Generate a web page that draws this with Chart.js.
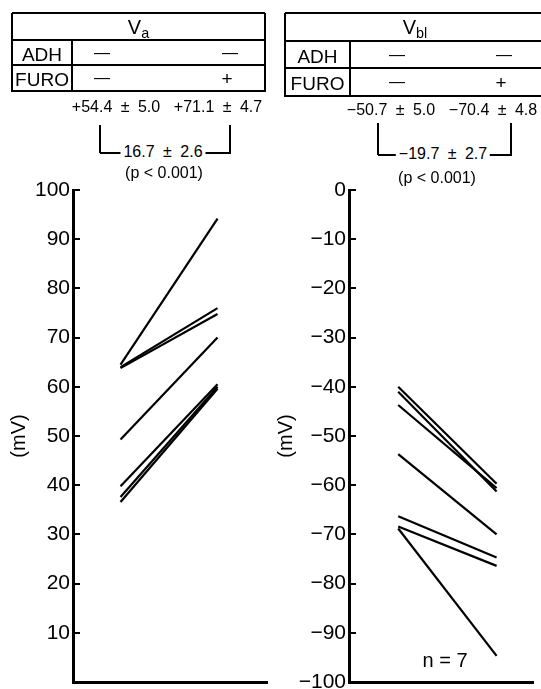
<!DOCTYPE html>
<html>
<head>
<meta charset="utf-8">
<script src="https://cdn.jsdelivr.net/npm/chart.js@4.4.0/dist/chart.umd.min.js"></script>
<style>
  body { margin: 0; background: #fff; }
  #page { position: relative; width: 541px; height: 689px; overflow: hidden;
          font-family: 'Liberation Sans', Arial, sans-serif; color: #000; }
  canvas { position: absolute; top: 0; }
  .ln { position: absolute; background: #000; }
  .t { position: absolute; transform: translate(-50%, -50%); white-space: nowrap; line-height: 1; }
  .num { word-spacing: 4px; }
  .gap { background: #fff; padding: 0 3px; }
  sub { font-size: 0.72em; vertical-align: -0.3em; line-height: 0; }
</style>
</head>
<body>
<div id="page">
  <canvas id="va" width="270" height="689" style="left:0"></canvas>
  <canvas id="vbl" width="271" height="689" style="left:270px"></canvas>
</div>
<script>
const FONT = "'Liberation Sans', Arial, sans-serif";

// x positions of the two conditions (FURO -, FURO +)
const conditionX = [0, 1];

// apical membrane potential, one entry per tubule (n = 7)
const vaControl = [64.5, 64.0, 63.8, 49.3, 39.8, 37.6, 36.6];
const vaFuro = [94.2, 76.0, 74.8, 70.0, 60.5, 60.0, 59.6];
const vaTicks = [10, 20, 30, 40, 50, 60, 70, 80, 90, 100];

// basolateral membrane potential
const vblControl = [-40.0, -41.0, -43.7, -53.7, -66.3, -68.4, -68.8];
const vblFuro = [-59.7, -61.3, -60.6, -70.0, -74.7, -76.4, -94.7];
const vblTicks = [0, -10, -20, -30, -40, -50, -60, -70, -80, -90, -100];

function makePanel(id, control, furo, ticks, opts) {
  const datasets = control.map((v, i) => ({
    data: [{x: conditionX[0], y: v}, {x: conditionX[1], y: furo[i]}],
    borderColor: '#000',
    borderWidth: 2.2,
    pointRadius: 0,
    tension: 0
  }));

  return new Chart(document.getElementById(id), {
    type: 'line',
    data: {datasets},
    options: {
      responsive: false,
      animation: false,
      events: [],
      layout: {padding: {top: 190, bottom: 7, left: 0, right: opts.padRight}},
      plugins: {legend: {display: false}, tooltip: {enabled: false}},
      scales: {
        x: {
          type: 'linear',
          min: opts.xMin,
          max: opts.xMax,
          ticks: {display: false},
          grid: {display: false},
          border: {display: true, color: '#000', width: 3},
          afterFit: (scale) => {
            scale.height = 0;
            scale.paddingLeft = 0;
            scale.paddingRight = 0;
          }
        },
        y: {
          min: opts.yMin,
          max: opts.yMax,
          afterBuildTicks: (scale) => {
            scale.ticks = ticks.map((v) => ({value: v}));
          },
          afterFit: (scale) => {
            scale.width = opts.axisWidth;
            scale.paddingTop = 0;
            scale.paddingBottom = 0;
          },
          ticks: {
            color: '#000',
            padding: 10,
            font: {family: FONT, size: 21},
            callback: (v) => String(v).replace('-', '\u2212')
          },
          grid: {drawOnChartArea: false, drawTicks: true, tickLength: -7, color: '#000', lineWidth: 2},
          border: {display: true, color: '#000', width: 3},
          title: {
            display: true,
            text: '(mV)',
            color: '#000',
            font: {family: FONT, size: 20},
            padding: {top: opts.titlePad, bottom: 0}
          }
        }
      }
    }
  });
}

makePanel('va', vaControl, vaFuro, vaTicks,
  {xMin: -0.49, xMax: 1.51, yMin: 0, yMax: 100, axisWidth: 73, padRight: 3, titlePad: 7});
makePanel('vbl', vblControl, vblFuro, vblTicks,
  {xMin: -0.5, xMax: 1.37, yMin: -100, yMax: 0, axisWidth: 79, padRight: 8, titlePad: 4});

// condition tables and the statistics above each panel
const page = document.getElementById('page');

function put(cls, style, html) {
  const el = document.createElement('div');
  el.className = cls;
  Object.assign(el.style, style);
  if (html) el.innerHTML = html;
  page.appendChild(el);
}
function text(x, y, html, size, cls) {
  put('t' + (cls ? ' ' + cls : ''), {left: x + 'px', top: y + 'px', fontSize: size + 'px'}, html);
}
function hline(x1, x2, y) {
  put('ln', {left: x1 + 'px', top: (y - 1) + 'px', width: (x2 - x1) + 'px', height: '2px'});
}
function vline(x, y1, y2) {
  put('ln', {left: (x - 1) + 'px', top: y1 + 'px', width: '2px', height: (y2 - y1) + 'px'});
}

function drawTable(t) {
  const [y0, y1, y2, y3] = t.rows;
  [y0, y1, y2, y3].forEach((y) => hline(t.x1, t.x2, y));
  vline(t.x1, y0, y3 + 1);
  vline(t.x2, y0, y3 + 1);
  vline(t.xd, y1, y3 + 1);
  text((t.x1 + t.x2) / 2, (y0 + y1) / 2, t.title, 20);
  text((t.x1 + t.xd) / 2, (y1 + y2) / 2 + 1, 'ADH', 19);
  text((t.x1 + t.xd) / 2, (y2 + y3) / 2 + 1, 'FURO', 19);
  text(t.cols[0], (y1 + y2) / 2, '\u2014', 16);
  text(t.cols[1], (y1 + y2) / 2, '\u2014', 16);
  text(t.cols[0], (y2 + y3) / 2, '\u2014', 16);
  text(t.cols[1] - 3, (y2 + y3) / 2, '+', 19);
}

function drawBracket(b) {
  vline(b.xa, b.top, b.bottom);
  vline(b.xb, b.top, b.bottom);
  hline(b.xa, b.xb + 1, b.bottom);
  text(b.means[0][0], b.means[0][1], b.means[0][2], 16, 'num');
  text(b.means[1][0], b.means[1][1], b.means[1][2], 16, 'num');
  text(b.diff[0], b.diff[1], '<span class="gap">' + b.diff[2] + '</span>', 16, 'num');
  text(b.p[0], b.p[1], '(p &lt; 0.001)', 16);
}

drawTable({x1: 12, x2: 265, xd: 72, rows: [13, 40, 65, 91], cols: [102, 230], title: 'V<sub>a</sub>'});
drawTable({x1: 285, x2: 545, xd: 350, rows: [13, 41, 68, 96], cols: [397, 504], title: 'V<sub>bl</sub>'});

drawBracket({
  xa: 100, xb: 230, top: 125, bottom: 153,
  means: [[116, 107, '+54.4 \u00b1 5.0'], [218, 107, '+71.1 \u00b1 4.7']],
  diff: [163, 152, '16.7 \u00b1 2.6'],
  p: [164, 173]
});
drawBracket({
  xa: 378, xb: 511, top: 123, bottom: 155,
  means: [[391, 110, '\u221250.7 \u00b1 5.0'], [493, 110, '\u221270.4 \u00b1 4.8']],
  diff: [443, 154, '\u221219.7 \u00b1 2.7'],
  p: [437, 178]
});

text(445, 660, 'n = 7', 20);
</script>
</body>
</html>
